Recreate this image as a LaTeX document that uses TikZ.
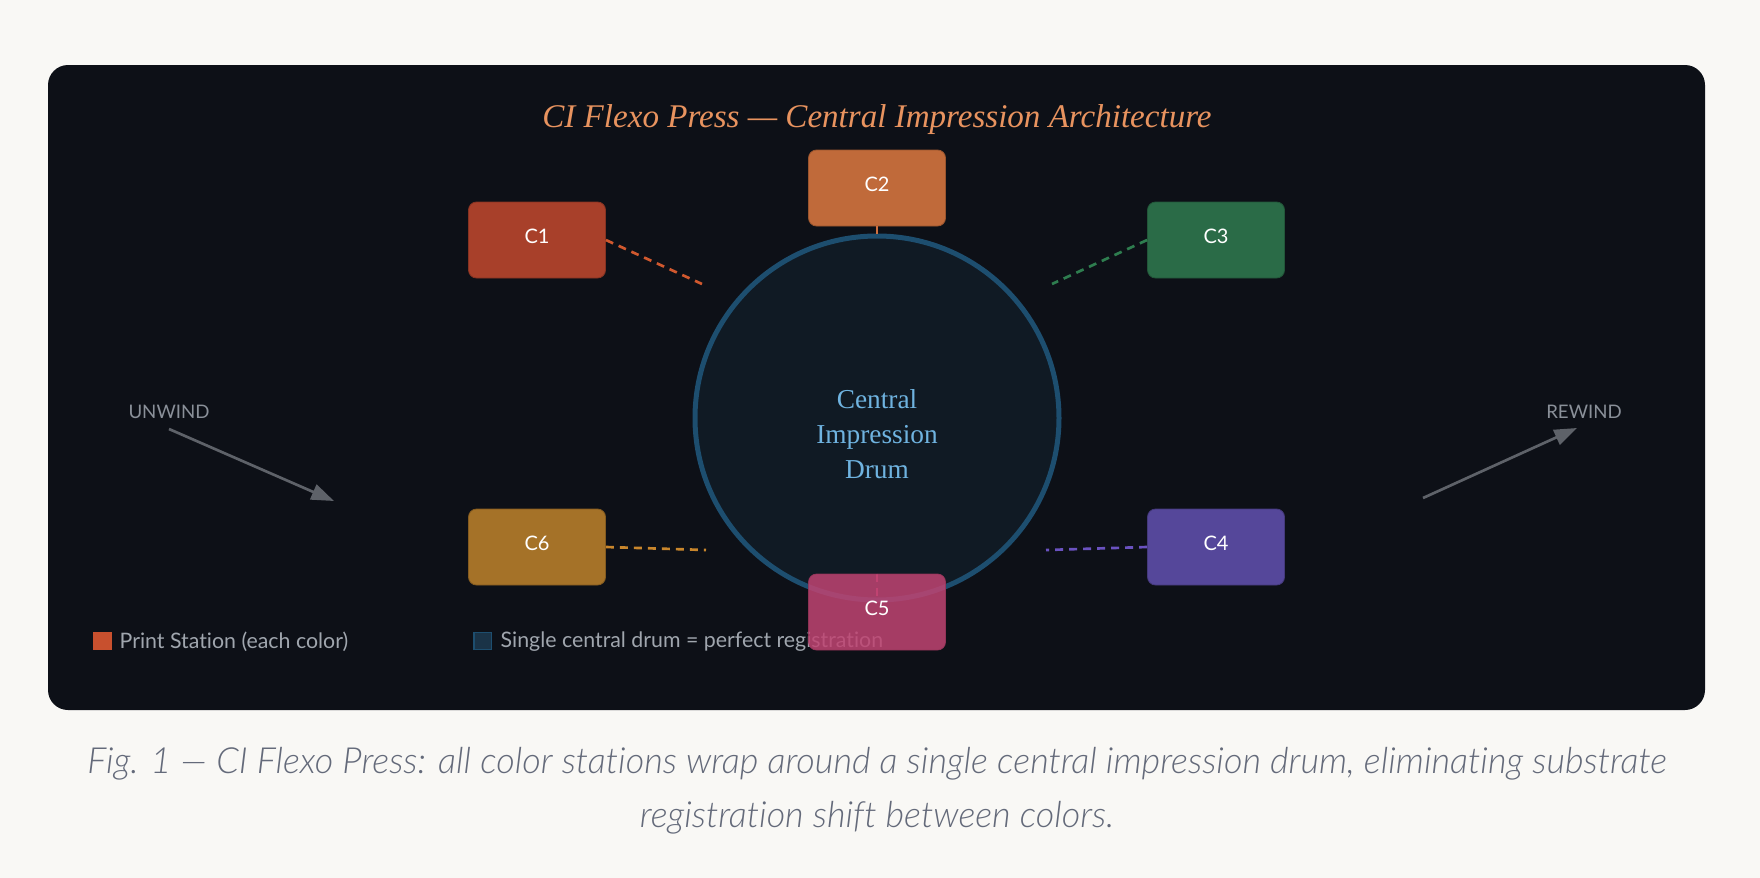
\documentclass[tikz,border=0pt]{standalone}
\usepackage{fontspec}
\setmainfont{Liberation Serif}
\newfontfamily\uisans{Lato}[RawFeature={-liga}]
\newfontfamily\capfont{Lato Light}[ItalicFont={Lato Light Italic}, RawFeature={-liga}]
\usetikzlibrary{arrows.meta}
\pgfdeclarelayer{bg}
\pgfdeclarelayer{mid}
\pgfsetlayers{bg,mid,main}
\definecolor{pagebg}{HTML}{F9F8F5}
\definecolor{panel}{HTML}{0D1017}
\definecolor{drumfill}{HTML}{101A24}
\definecolor{drumline}{HTML}{1D4E6F}
\definecolor{drumtext}{HTML}{6FB3E0}
\definecolor{titlec}{HTML}{E8935F}
\definecolor{labelc}{HTML}{8A9099}
\definecolor{arrowc}{HTML}{5E6269}
\definecolor{legendc}{HTML}{A0A6AE}
\definecolor{capc}{HTML}{646A7A}
\definecolor{cone}{HTML}{A8402A}
\definecolor{ctwo}{HTML}{C06A3A}
\definecolor{cthree}{HTML}{2A6B47}
\definecolor{cfour}{HTML}{55479A}
\definecolor{cfive}{HTML}{C04472}
\definecolor{csix}{HTML}{A57228}
\definecolor{lone}{HTML}{D0582E}
\definecolor{ltwo}{HTML}{D07040}
\definecolor{lthree}{HTML}{2E7D4F}
\definecolor{lfour}{HTML}{6A52C0}
\definecolor{lfive}{HTML}{C04070}
\definecolor{lsix}{HTML}{C8862C}
\definecolor{legsq}{HTML}{C8502E}
\definecolor{legdrum}{HTML}{1A3347}
\tikzset{
  station/.style={rounded corners=6pt, minimum width=102.75pt, minimum height=57pt,
    text=white, font=\uisans\fontsize{15}{18}\selectfont, text height=10.8pt, text depth=6pt,
    draw=#1!80!black, fill=#1, line width=0.6pt},
  linkline/.style={draw=#1, line width=2pt, dash pattern=on 6pt off 4.5pt},
  flowarrow/.style={draw=arrowc, line width=2pt, -{Triangle[length=17pt,width=12pt]}},
  sidelabel/.style={text=labelc, font=\uisans\fontsize{14}{17}\selectfont},
  legendtext/.style={text=legendc, font=\uisans\fontsize{16}{19}\selectfont, anchor=west},
  captext/.style={text=capc, font=\capfont\itshape\fontsize{27}{32}\selectfont},
}
\begin{document}
\begin{tikzpicture}[x=0.75pt,y=-0.75pt]
\begin{pgfonlayer}{bg}
\fill[pagebg] (0,0) rectangle (1760,878);
\fill[panel, rounded corners=15pt] (48,65) rectangle (1705,710);
\end{pgfonlayer}
\useasboundingbox (0,0) rectangle (1760,878);

\node[text=titlec, font=\itshape\fontsize{24.8}{29}\selectfont] (title) at (877,120) {CI Flexo Press — Central Impression Architecture};

\begin{pgfonlayer}{bg}
\node[circle, minimum size=273pt, draw=drumline, fill=drumfill, line width=3.75pt, inner sep=0pt] (drum) at (877,418) {};
\end{pgfonlayer}
\node[text=drumtext, align=center, font=\fontsize{20.5}{26}\selectfont] (drumlabel) at (877,434) {Central\\Impression\\Drum};

\coordinate (p1) at (702,284);
\coordinate (p3) at (1052,284);
\coordinate (p6) at (706,550);
\coordinate (p4) at (1046,550);

\node[station=cone] (c1) at (537,240) {C1};
\node[station=ctwo] (c2) at (877,188) {C2};
\node[station=cthree] (c3) at (1216,240) {C3};
\node[station=cfour] (c4) at (1216,547) {C4};
\node[station=csix] (c6) at (537,547) {C6};

\draw[linkline=lone] (c1.east) -- (p1);
\draw[draw=ltwo, line width=2pt] (c2.south) -- (drum.north);
\draw[linkline=lthree] (c3.west) -- (p3);
\draw[linkline=lsix] (c6.east) -- (p6);
\draw[linkline=lfour] (c4.west) -- (p4);

\node[sidelabel] (unwind) at (169,412) {UNWIND};
\coordinate (u1) at (169,429);
\coordinate (u2) at (334,501);
\draw[flowarrow] (u1) -- (u2);

\node[sidelabel] (rewind) at (1584,412) {REWIND};
\coordinate (r1) at (1423,498);
\coordinate (r2) at (1577,428);
\draw[flowarrow] (r1) -- (r2);

\node[fill=legsq, minimum size=14pt, inner sep=0pt] (lsq1) at (102.5,641) {};
\node[legendtext] (ltext1) at (115,642) {Print Station (each color)};
\node[fill=legdrum, draw=drumline, line width=1pt, minimum size=13pt, inner sep=0pt] (lsq2) at (482.5,641) {};
\node[legendtext] (ltext2) at (496,642) {Single central drum = perfect registration};

\node[station=cfive, fill opacity=0.85, draw opacity=0.85, text opacity=1] (c5) at (877,612) {C5};
\begin{pgfonlayer}{mid}
\draw[linkline=lfive] (c5.north) -- (drum.south);
\end{pgfonlayer}

\node[captext] (cap1) at (877,764) {Fig. 1 — CI Flexo Press: all color stations wrap around a single central impression drum, eliminating substrate};
\node[captext] (cap2) at (877,818) {registration shift between colors.};
\end{tikzpicture}
\end{document}
